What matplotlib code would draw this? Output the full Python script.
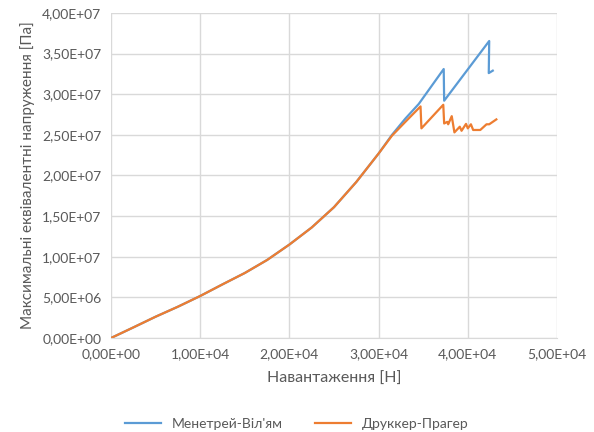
import matplotlib
matplotlib.use('Agg')
import matplotlib.pyplot as plt
from matplotlib.ticker import FuncFormatter, MultipleLocator

plt.rcParams['font.family'] = ['Lato', 'DejaVu Sans']

# load [N] vs max equivalent stress [Pa]
load_mv = [0, 2500, 5000, 7500, 10000, 12500, 15000, 17500, 20000, 22500, 25000,
           27500, 30000, 31500, 33000, 34500, 37300, 37350, 42400, 42350, 42800]
stress_mv = [0, 1.3e6, 2.62e6, 3.85e6, 5.17e6, 6.6e6, 8.0e6, 9.6e6, 1.15e7, 1.36e7, 1.61e7,
             1.92e7, 2.27e7, 2.5e7, 2.7e7, 2.88e7, 3.31e7, 2.92e7, 3.655e7, 3.26e7, 3.29e7]

load_dp = [0, 2500, 5000, 7500, 10000, 12500, 15000, 17500, 20000, 22500, 25000,
           27500, 30000, 31500, 33000, 34700, 34800, 37250, 37350, 37700, 37800, 38200,
           38500, 39100, 39300, 39800, 40000, 40350, 40600, 41400, 42100, 42400, 43200]
stress_dp = [0, 1.3e6, 2.62e6, 3.85e6, 5.17e6, 6.6e6, 8.0e6, 9.6e6, 1.15e7, 1.36e7, 1.61e7,
             1.92e7, 2.27e7, 2.49e7, 2.66e7, 2.85e7, 2.58e7, 2.87e7, 2.64e7, 2.66e7, 2.63e7, 2.73e7,
             2.53e7, 2.6e7, 2.55e7, 2.635e7, 2.58e7, 2.63e7, 2.56e7, 2.56e7, 2.63e7, 2.63e7, 2.69e7]

fig = plt.figure(figsize=(5.94, 4.32), dpi=100)
ax = fig.add_axes([0.1869, 0.2176, 0.7508, 0.7524])

ax.plot(load_mv, stress_mv, color='#5B9BD5', lw=1.6, label="Менетрей-Віл'ям")
ax.plot(load_dp, stress_dp, color='#ED7D31', lw=1.6, label='Друккер-Прагер')

ax.set_xlim(0, 5e4)
ax.set_ylim(0, 4e7)
ax.xaxis.set_major_locator(MultipleLocator(1e4))
ax.yaxis.set_major_locator(MultipleLocator(5e6))

fmt = FuncFormatter(lambda v, p: f'{v:.2E}'.replace('.', ','))
ax.xaxis.set_major_formatter(fmt)
ax.yaxis.set_major_formatter(fmt)

ax.grid(True, color='#D9D9D9', lw=1)
ax.set_axisbelow(True)
for side in ['top', 'right', 'left']:
    ax.spines[side].set_visible(False)
ax.spines['bottom'].set_color('#D9D9D9')
ax.tick_params(length=0, labelsize=10, labelcolor='#595959', pad=7)

ax.set_xlabel('Навантаження [Н]', fontsize=11.5, color='#595959', labelpad=9)
ax.set_ylabel('Максимальні еквівалентні напруження [Па]', fontsize=11,
              color='#595959', labelpad=5)

leg = fig.legend(loc='lower center', bbox_to_anchor=(0.5, -0.025), ncol=2,
                 frameon=False, fontsize=10, handlelength=2.6, columnspacing=2.3)
for t in leg.get_texts():
    t.set_color('#595959')

fig.savefig('out.png', dpi=100)
